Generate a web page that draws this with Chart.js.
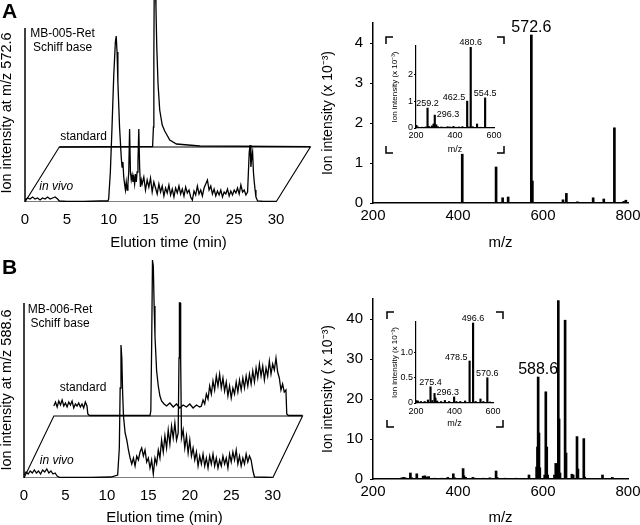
<!DOCTYPE html>
<html>
<head>
<meta charset="utf-8">
<script src="https://cdn.jsdelivr.net/npm/chart.js@4.4.1/dist/chart.umd.min.js"></script>
<style>
  html, body { margin: 0; background: #fff; }
  #fig { position: relative; width: 640px; height: 525px; overflow: hidden; }
  .box { position: absolute; }
</style>
</head>
<body>
<div id="fig">
  <div class="box" style="left:0;top:0;width:320px;height:250px"><canvas id="chromA"></canvas></div>
  <div class="box" style="left:320px;top:0;width:320px;height:250px"><canvas id="msA"></canvas></div>
  <div class="box" style="left:385px;top:36px;width:120px;height:118px"><canvas id="insetA"></canvas></div>
  <div class="box" style="left:0;top:250px;width:320px;height:275px"><canvas id="chromB"></canvas></div>
  <div class="box" style="left:320px;top:250px;width:320px;height:275px"><canvas id="msB"></canvas></div>
  <div class="box" style="left:386px;top:311px;width:118px;height:117px"><canvas id="insetB"></canvas></div>
</div>
<script>
// ── Data ──────────────────────────────────────────────────────────────────────

// Panel A chromatograms (min, relative intensity)
const aVivoT = [0, 0.3, 0.6, 0.9, 1.2, 1.5, 1.8, 2.1, 2.4, 2.7, 3.0, 3.3, 3.6, 3.9, 4.1, 5, 7, 9, 9.9,
    10.0, 10.2, 10.4, 10.6, 10.8, 10.9, 11.0, 11.1, 11.3, 11.5, 11.6, 11.7, 11.8, 11.9,
    12.0, 12.1, 12.2, 12.3, 12.4, 12.5, 12.6, 12.7, 12.8, 12.9, 13.0, 13.1, 13.2, 13.3, 13.4, 13.5, 13.6, 13.7, 13.8, 13.9,
    14.0, 14.2, 14.4, 14.6, 14.8, 15.0, 15.2, 15.4, 15.6, 15.8, 16.0, 16.2, 16.4, 16.6, 16.8, 17.0, 17.2, 17.4, 17.6, 17.8,
    18.0, 18.2, 18.4, 18.6, 18.8, 19.0, 19.2, 19.4, 19.6, 19.8, 20.0, 20.2, 20.4, 20.6, 20.8, 21.0, 21.2, 21.4, 21.6, 21.8,
    22.0, 22.2, 22.4, 22.6, 22.8, 23.0, 23.2, 23.4, 23.6, 23.8, 24.0, 24.2, 24.4, 24.6, 24.8, 25.0, 25.2, 25.4, 25.6, 25.8,
    26.0, 26.2, 26.4, 26.6, 26.7, 26.8, 26.9, 27.0, 27.1, 27.2, 27.3, 27.4, 27.5, 27.6, 27.8, 28.5, 30];
const aVivoI = [2, 4, 3, 5, 3, 4, 2, 4, 3, 5, 3, 4, 5, 3, 1, 0.5, 0.5, 1, 1,
    3, 30, 75, 125, 160, 166, 150, 120, 75, 45, 35, 40, 25, 18,
    12, 20, 12, 18, 30, 73, 30, 22, 27, 20, 25, 18, 28, 20, 30, 40, 73, 35, 15, 22,
    18, 25, 12, 22, 15, 24, 10, 20, 14, 8, 18, 10, 16, 6, 14, 9, 17, 7, 13, 5,
    14, 9, 16, 8, 13, 6, 15, 9, 12, 5, 2, 11, 7, 16, 8, 12, 6, 14, 18, 22,
    12, 16, 8, 13, 6, 11, 7, 12, 5, 10, 8, 13, 6, 11, 7, 12, 9, 14, 8, 17,
    10, 12, 7, 10, 30, 50, 57, 35, 45, 50, 30, 20, 12, 5, 1, 0.5, 0.5];
const aStdT = [0, 11.15, 11.25, 11.3, 11.35, 11.45, 11.55, 11.65, 11.8, 12.0, 12.3, 12.6, 12.8, 13.2, 14.0, 16.8, 30];
const aStdI = [0, 0.5, 20, 90, 170, 175, 140, 100, 63, 37, 22, 16, 13, 7, 3, 1, 0.3];

// Panel B chromatograms
const bVivoT = [0, 0.25, 0.5, 0.75, 1.0, 1.25, 1.5, 1.75, 2.0, 2.25, 2.5, 2.75, 3.0, 3.25, 3.5, 3.75, 4.0, 4.3, 8, 10.5, 11.3,
    11.5, 11.6, 11.7, 11.8, 11.9, 12.0, 12.2, 12.4, 12.6, 12.8,
    13.0, 13.2, 13.4, 13.6, 13.8, 14.0, 14.2, 14.4, 14.6, 14.8, 15.0, 15.2, 15.4, 15.6, 15.8, 16.0, 16.2, 16.4, 16.6, 16.8,
    17.0, 17.2, 17.4, 17.6, 17.8, 18.0, 18.2, 18.4, 18.6, 18.7, 18.75, 18.85, 18.9, 19.0,
    19.2, 19.4, 19.6, 19.8, 20.0, 20.2, 20.4, 20.6, 20.8, 21.0, 21.2, 21.4, 21.6, 21.8, 22.0, 22.2, 22.4, 22.6, 22.8, 23.0,
    23.2, 23.4, 23.6, 23.8, 24.0, 24.2, 24.4, 24.6, 24.8, 25.0, 25.2, 25.4, 25.6, 25.8, 26.0, 26.2, 26.4, 26.6, 26.8, 27.0,
    27.2, 27.4, 27.6, 27.8, 30];
const bVivoI = [3, 6, 4, 7, 5, 8, 5, 7, 4, 8, 6, 9, 5, 7, 4, 5, 2, 0.5, 0.5, 1, 3,
    30, 90, 133, 120, 85, 62, 45, 38, 28, 20,
    14, 20, 12, 22, 18, 26, 30, 22, 28, 16, 20, 10, 18, 4, 20, 14, 28, 20, 38, 26,
    42, 30, 48, 34, 52, 40, 55, 38, 45, 120, 175, 175, 120, 40,
    48, 30, 42, 25, 38, 22, 30, 18, 26, 12, 22, 14, 24, 12, 20, 10, 22, 14, 24, 12,
    20, 10, 18, 12, 22, 14, 20, 10, 24, 16, 26, 18, 28, 14, 22, 12, 20, 14, 24, 16,
    22, 18, 8, 1, 0.5];
const bStdT = [0, 0.2, 0.4, 0.6, 0.8, 1.0, 1.2, 1.4, 1.6, 1.8, 2.0, 2.2, 2.4, 2.6, 2.8, 3.0, 3.2, 3.4, 3.6, 3.8, 4.0,
    4.1, 4.3, 11.6, 11.7, 11.8, 11.9, 12.0, 12.1, 12.2, 12.4, 12.6, 12.8, 13.0, 13.3, 13.6,
    14.0, 14.4, 14.8, 15.2, 15.6, 16.0, 16.4, 16.8, 17.2, 17.6,
    17.8, 18.0, 18.2, 18.4, 18.6, 18.8, 19.0, 19.2, 19.4, 19.6, 19.8, 20.0, 20.2, 20.4, 20.6, 20.8, 21.0, 21.2, 21.4, 21.6,
    21.8, 22.0, 22.2, 22.4, 22.6, 22.8, 23.0, 23.2, 23.4, 23.6, 23.8, 24.0, 24.2, 24.4, 24.6, 24.8, 25.0, 25.2, 25.4, 25.6,
    25.8, 26.0, 26.2, 26.4, 26.6, 26.8, 27.0, 27.2, 27.4, 27.6, 27.8, 28.0, 28.1, 28.3, 30];
const bStdI = [10, 14, 9, 15, 11, 16, 10, 13, 9, 14, 11, 15, 8, 12, 10, 13, 9, 12, 8, 14, 10,
    2, 0.5, 0.5, 5, 70, 156, 150, 110, 80, 45, 30, 20, 15, 12, 10,
    13, 9, 12, 8, 11, 9, 12, 8, 11, 9,
    10, 16, 12, 22, 17, 30, 22, 35, 26, 40, 30, 42, 28, 38, 25, 34, 20, 30, 18, 28,
    22, 34, 24, 36, 26, 38, 28, 40, 30, 42, 32, 45, 34, 48, 38, 52, 40, 50, 36, 48,
    40, 55, 42, 52, 46, 58, 44, 38, 26, 32, 24, 26, 2, 0.5, 0.5];

// Mass spectra (m/z, intensity x 10^-3)
const msAMz = [410, 489.6, 505, 518, 572.6, 575, 647, 655, 681, 718, 743, 768, 790, 795];
const msAInt = [1.22, 0.9, 0.13, 0.15, 4.2, 0.55, 0.08, 0.24, 0.03, 0.13, 0.1, 1.88, 0.04, 0.07];
const insetAMz = [202, 210, 232, 250, 259.2, 265, 270, 282, 290, 296.3, 304, 312, 330, 345, 362, 375, 392, 405, 420, 438,
    462.5, 470, 480.6, 490, 513, 530, 554.5, 570];
const insetAInt = [0.1, 0.04, 0.03, 0.04, 0.74, 0.06, 0.04, 0.08, 0.15, 0.48, 0.12, 0.05, 0.04, 0.03, 0.05, 0.04, 0.06, 0.03, 0.04, 0.05,
    1.0, 0.04, 3.0, 0.05, 0.15, 0.03, 1.12, 0.02];

const msBMz = [268, 272, 276, 288, 291, 303, 318, 322, 326, 331, 345, 362, 376, 389, 392, 412, 414, 418, 435, 440,
    460, 475, 489.6, 492, 510, 537, 567, 585, 587, 588.6, 590.5, 592.5, 604, 606.6, 608.8, 611, 627, 630, 634, 636,
    637.8, 640, 652, 654.2, 668, 671, 680, 682.2, 696, 698, 740, 763];
const msBInt = [0.3, 0.4, 0.3, 1.5, 0.3, 1.3, 0.7, 0.8, 0.5, 0.6, 0.2, 0.2, 0.4, 1.3, 0.3, 2.6, 0.8, 0.4, 0.4, 0.2,
    0.2, 0.3, 2.0, 0.4, 0.2, 0.2, 1.0, 3.0, 8.0, 25.5, 11.5, 2.8, 1.0, 21.8, 8.0, 1.0, 1.0, 3.9, 2.0, 44.6,
    15, 1.5, 39.7, 6.5, 1.2, 1.0, 10.6, 2.5, 10.1, 0.5, 1.0, 0.4];
const insetBMz = [202, 210, 225, 245, 262, 275.4, 285, 296.3, 301, 310, 330, 350, 372, 398, 410, 430, 455, 478.5, 496.6, 510,
    535, 550, 570.6, 585];
const insetBInt = [0.05, 0.04, 0.03, 0.03, 0.06, 0.32, 0.05, 0.19, 0.1, 0.04, 0.03, 0.05, 0.03, 0.12, 0.03, 0.03, 0.04, 0.83, 1.58, 0.03,
    0.08, 0.03, 0.5, 0.02];

// labelled peaks
const msALabels = [572.6];
const insetALabels = [259.2, 296.3, 462.5, 480.6, 554.5];
const msBLabels = [588.6];
const insetBLabels = [275.4, 296.3, 478.5, 496.6, 570.6];

const RUN_END = 30;

// ── Setup ─────────────────────────────────────────────────────────────────────

const FONT = "'Liberation Sans', Arial, Helvetica, sans-serif";
Chart.defaults.font.family = FONT;
Chart.defaults.color = '#000';

const keepSteps = (step) => (s) => {
    s.ticks = s.ticks.filter((t) => Math.abs(t.value / step - Math.round(t.value / step)) < 1e-6);
};

// draws the y axis line, panel letter and the trace annotations
const chromText = {
    id: 'chromText',
    afterDraw(chart, args, o) {
        const { ctx, chartArea, scales: { x, y } } = chart;
        ctx.save();
        ctx.strokeStyle = '#000';
        ctx.fillStyle = '#000';
        ctx.lineWidth = 1.5;
        ctx.beginPath();
        ctx.moveTo(chartArea.left, y.getPixelForValue(0));
        ctx.lineTo(chartArea.left, y.getPixelForValue(o.axisTop));
        ctx.stroke();

        ctx.textBaseline = 'middle';
        ctx.textAlign = 'left';
        ctx.font = `bold 21px ${FONT}`;
        ctx.fillText(o.letter, 2, o.letterY);

        ctx.font = `12px ${FONT}`;
        ctx.textAlign = 'center';
        o.compound.forEach((s, i) => ctx.fillText(s, o.compoundX, o.compoundY + i * 13.5));

        ctx.textAlign = 'left';
        ctx.fillText('standard', x.getPixelForValue(o.stdLabel[0]), y.getPixelForValue(o.stdLabel[1]));
        ctx.font = `italic 12px ${FONT}`;
        ctx.fillText('in vivo', x.getPixelForValue(o.vivoLabel[0]), y.getPixelForValue(o.vivoLabel[1]));
        ctx.restore();
    },
};

const peakLabels = {
    id: 'peakLabels',
    afterDatasetsDraw(chart, args, o) {
        const { ctx, scales: { x, y } } = chart;
        ctx.save();
        ctx.fillStyle = '#000';
        ctx.font = `${o.size}px ${FONT}`;
        o.peaks.forEach((mz, i) => {
            const h = o.h[o.mz.indexOf(mz)];
            const px = x.getPixelForValue(mz);
            const py = y.getPixelForValue(h);
            const side = o.sides[i];
            const txt = mz.toFixed(1);
            if (side === 'l') {
                ctx.textAlign = 'left';
                ctx.textBaseline = 'alphabetic';
                ctx.fillText(txt, px + 2, py + 2);
            } else if (side === 'r') {
                ctx.textAlign = 'right';
                ctx.textBaseline = 'bottom';
                ctx.fillText(txt, px - 2, py + 1);
            } else {
                ctx.textAlign = 'center';
                ctx.textBaseline = 'alphabetic';
                ctx.fillText(txt, px, py - o.gap);
            }
        });
        ctx.restore();
    },
};

const brackets = {
    id: 'brackets',
    afterDraw(chart) {
        const { ctx, width: w, height: h } = chart;
        const a = 7, m = 1;
        ctx.save();
        ctx.strokeStyle = '#000';
        ctx.lineWidth = 1.5;
        ctx.beginPath();
        ctx.moveTo(m, m + a); ctx.lineTo(m, m); ctx.lineTo(m + a, m);
        ctx.moveTo(w - m - a, m); ctx.lineTo(w - m, m); ctx.lineTo(w - m, m + a);
        ctx.moveTo(m, h - m - a); ctx.lineTo(m, h - m); ctx.lineTo(m + a, h - m);
        ctx.moveTo(w - m - a, h - m); ctx.lineTo(w - m, h - m); ctx.lineTo(w - m, h - m - a);
        ctx.stroke();
        ctx.restore();
    },
};

// ── Chromatogram (pseudo-3D: standard trace pushed back by `shift`) ───────────

function chromChart(id, c) {
    const [dx, dy] = c.shift;
    const pts = (ts, vs, ox, oy) => ts.map((t, i) => ({ x: t + ox, y: vs[i] + oy }));
    // front edge, slanted right edge, back edge, slanted left edge
    const frame = [{ x: 0, y: 0 }, { x: RUN_END, y: 0 }, { x: RUN_END + dx, y: dy }, { x: dx, y: dy }, { x: 0, y: 0 }];
    const line = { borderColor: '#000', borderWidth: 1.3, pointRadius: 0, tension: 0, fill: false };

    return new Chart(document.getElementById(id), {
        type: 'line',
        data: {
            datasets: [
                { ...line, data: frame, borderWidth: 1.1 },
                { ...line, data: pts(c.stdT, c.stdI, dx, dy), clip: false },
                { ...line, data: pts(c.vivoT, c.vivoI, 0, 0) },
            ],
        },
        options: {
            animation: false,
            responsive: true,
            maintainAspectRatio: false,
            layout: { padding: c.pad },
            plugins: {
                legend: { display: false },
                tooltip: { enabled: false },
                chromText: c.text,
            },
            scales: {
                x: {
                    type: 'linear',
                    min: 0,
                    max: c.xMax,
                    grid: { display: false, drawTicks: false },
                    border: { display: false },
                    ticks: { stepSize: 5, includeBounds: false, padding: 9, maxRotation: 0, autoSkip: false, font: { size: 15 } },
                    afterBuildTicks: (s) => { s.ticks = s.ticks.filter((t) => t.value <= RUN_END); },
                    title: { display: true, text: 'Elution time (min)', padding: 0, font: { size: 15, lineHeight: 1 } },
                    afterFit: (s) => { s.height = c.xH; },
                },
                y: {
                    min: 0,
                    max: c.yMax,
                    grid: { display: false, drawTicks: false },
                    border: { display: false },
                    ticks: { display: false },
                    title: { display: true, text: c.yTitle, padding: 0, font: { size: c.yTitleSize, lineHeight: 1 } },
                    afterFit: (s) => { s.width = c.yW; },
                },
            },
        },
        plugins: [chromText],
    });
}

// ── Mass spectrum (sticks as thin bars on a linear m/z axis) ──────────────────

function msChart(id, c) {
    return new Chart(document.getElementById(id), {
        type: 'bar',
        data: {
            datasets: [{
                data: c.mz.map((m, i) => ({ x: m, y: c.h[i] })),
                backgroundColor: '#000',
                borderWidth: 0,
                barThickness: c.bar,
            }],
        },
        options: {
            animation: false,
            responsive: true,
            maintainAspectRatio: false,
            layout: { padding: c.pad },
            plugins: {
                legend: { display: false },
                tooltip: { enabled: false },
                peakLabels: { mz: c.mz, h: c.h, peaks: c.labels, sides: c.sides, size: c.labelSize, gap: c.gap },
            },
            scales: {
                x: {
                    type: 'linear',
                    min: 200,
                    max: c.xMax,
                    offset: false,
                    grid: { display: false, offset: false, drawTicks: false },
                    border: { color: '#000', width: c.axisW },
                    ticks: { stepSize: 200, padding: c.xPad, maxRotation: 0, autoSkip: false, font: { size: c.tick } },
                    afterBuildTicks: keepSteps(200),
                    title: { display: true, text: 'm/z', padding: 0, font: { size: c.xTitle, lineHeight: 1 } },
                    afterFit: (s) => { s.height = c.xH; s.paddingLeft = 0; s.paddingRight = 0; },
                },
                y: {
                    min: 0,
                    max: c.yMax,
                    grid: { display: true, drawOnChartArea: false, drawTicks: true, tickLength: c.tickLen, color: '#000' },
                    border: { color: '#000', width: c.axisW },
                    ticks: {
                        stepSize: c.yStep,
                        padding: c.yPad,
                        font: { size: c.tick },
                        callback: (v) => (v === 0 ? '0' : v.toFixed(c.yDec)),
                    },
                    afterBuildTicks: keepSteps(c.yStep),
                    title: { display: true, text: c.yTitle, padding: { top: c.yTitlePad, bottom: 0 }, font: { size: c.yTitleSize, lineHeight: 1 } },
                    afterFit: (s) => { s.width = c.yW; },
                },
            },
        },
        plugins: c.bracket ? [peakLabels, brackets] : [peakLabels],
    });
}

// ── Panels ────────────────────────────────────────────────────────────────────

chromChart('chromA', {
    vivoT: aVivoT, vivoI: aVivoI, stdT: aStdT, stdI: aStdI,
    shift: [4.1, 55], xMax: 34.3, yMax: 178, yW: 25, xH: 48,
    pad: { left: 0, right: 8, top: 24, bottom: 0 },
    yTitle: 'Ion intensity at m/z 572.6', yTitleSize: 14.5,
    text: {
        axisTop: 174, letter: 'A', letterY: 12.5,
        compound: ['MB-005-Ret', 'Schiff base'], compoundX: 62.5, compoundY: 34,
        stdLabel: [4.2, 65], vivoLabel: [1.7, 15],
    },
});

chromChart('chromB', {
    vivoT: bVivoT, vivoI: bVivoI, stdT: bStdT, stdI: bStdI,
    shift: [3.6, 62], xMax: 33.9, yMax: 176, yW: 24, xH: 47,
    pad: { left: 0, right: 15, top: 52, bottom: 0 },
    yTitle: 'Ion intensity at m/z 588.6', yTitleSize: 14.5,
    text: {
        axisTop: 175, letter: 'B', letterY: 18.5,
        compound: ['MB-006-Ret', 'Schiff base'], compoundX: 60, compoundY: 60,
        stdLabel: [4.3, 90], vivoLabel: [1.9, 17],
    },
});

msChart('msA', {
    mz: msAMz, h: msAInt, labels: msALabels, sides: ['c'], labelSize: 16, gap: 3,
    bar: 2, xMax: 800, yMax: 4.5, yStep: 1, yDec: 0, axisW: 1.5,
    pad: { left: 0, right: 12, top: 23, bottom: 0 }, yW: 53, xH: 47,
    tick: 15, tickLen: 3, xPad: 4, yPad: 7, xTitle: 15,
    yTitle: 'Ion intensity (x 10⁻³)', yTitleSize: 14, yTitlePad: 1,
});

msChart('msB', {
    mz: msBMz, h: msBInt, labels: msBLabels, sides: ['c'], labelSize: 16, gap: 3,
    bar: 2, xMax: 800, yMax: 45, yStep: 10, yDec: 0, axisW: 1.5,
    pad: { left: 0, right: 12, top: 49, bottom: 0 }, yW: 53, xH: 46,
    tick: 15, tickLen: 3, xPad: 4, yPad: 7, xTitle: 15,
    yTitle: 'Ion intensity ( x 10⁻³)', yTitleSize: 14, yTitlePad: 1,
});

msChart('insetA', {
    mz: insetAMz, h: insetAInt, labels: insetALabels, sides: ['c', 'l', 'r', 'c', 'c'], labelSize: 9, gap: 2,
    bar: 1.5, xMax: 600, yMax: 3.05, yStep: 1, yDec: 0, axisW: 1.2, bracket: true,
    pad: { left: 0, right: 11, top: 10, bottom: 0 }, yW: 31, xH: 26,
    tick: 9, tickLen: 2, xPad: 2, yPad: 1, xTitle: 9,
    yTitle: 'Ion intensity (x 10⁻³)', yTitleSize: 8, yTitlePad: 6,
});

msChart('insetB', {
    mz: insetBMz, h: insetBInt, labels: insetBLabels, sides: ['c', 'l', 'r', 'c', 'c'], labelSize: 9, gap: 2,
    bar: 1.5, xMax: 600, yMax: 1.6, yStep: 0.5, yDec: 1, axisW: 1.2, bracket: true,
    pad: { left: 0, right: 11, top: 11, bottom: 0 }, yW: 30, xH: 25,
    tick: 9, tickLen: 2, xPad: 3, yPad: 1, xTitle: 9,
    yTitle: 'Ion intensity (x 10⁻³)', yTitleSize: 8, yTitlePad: 5,
});
</script>
</body>
</html>
